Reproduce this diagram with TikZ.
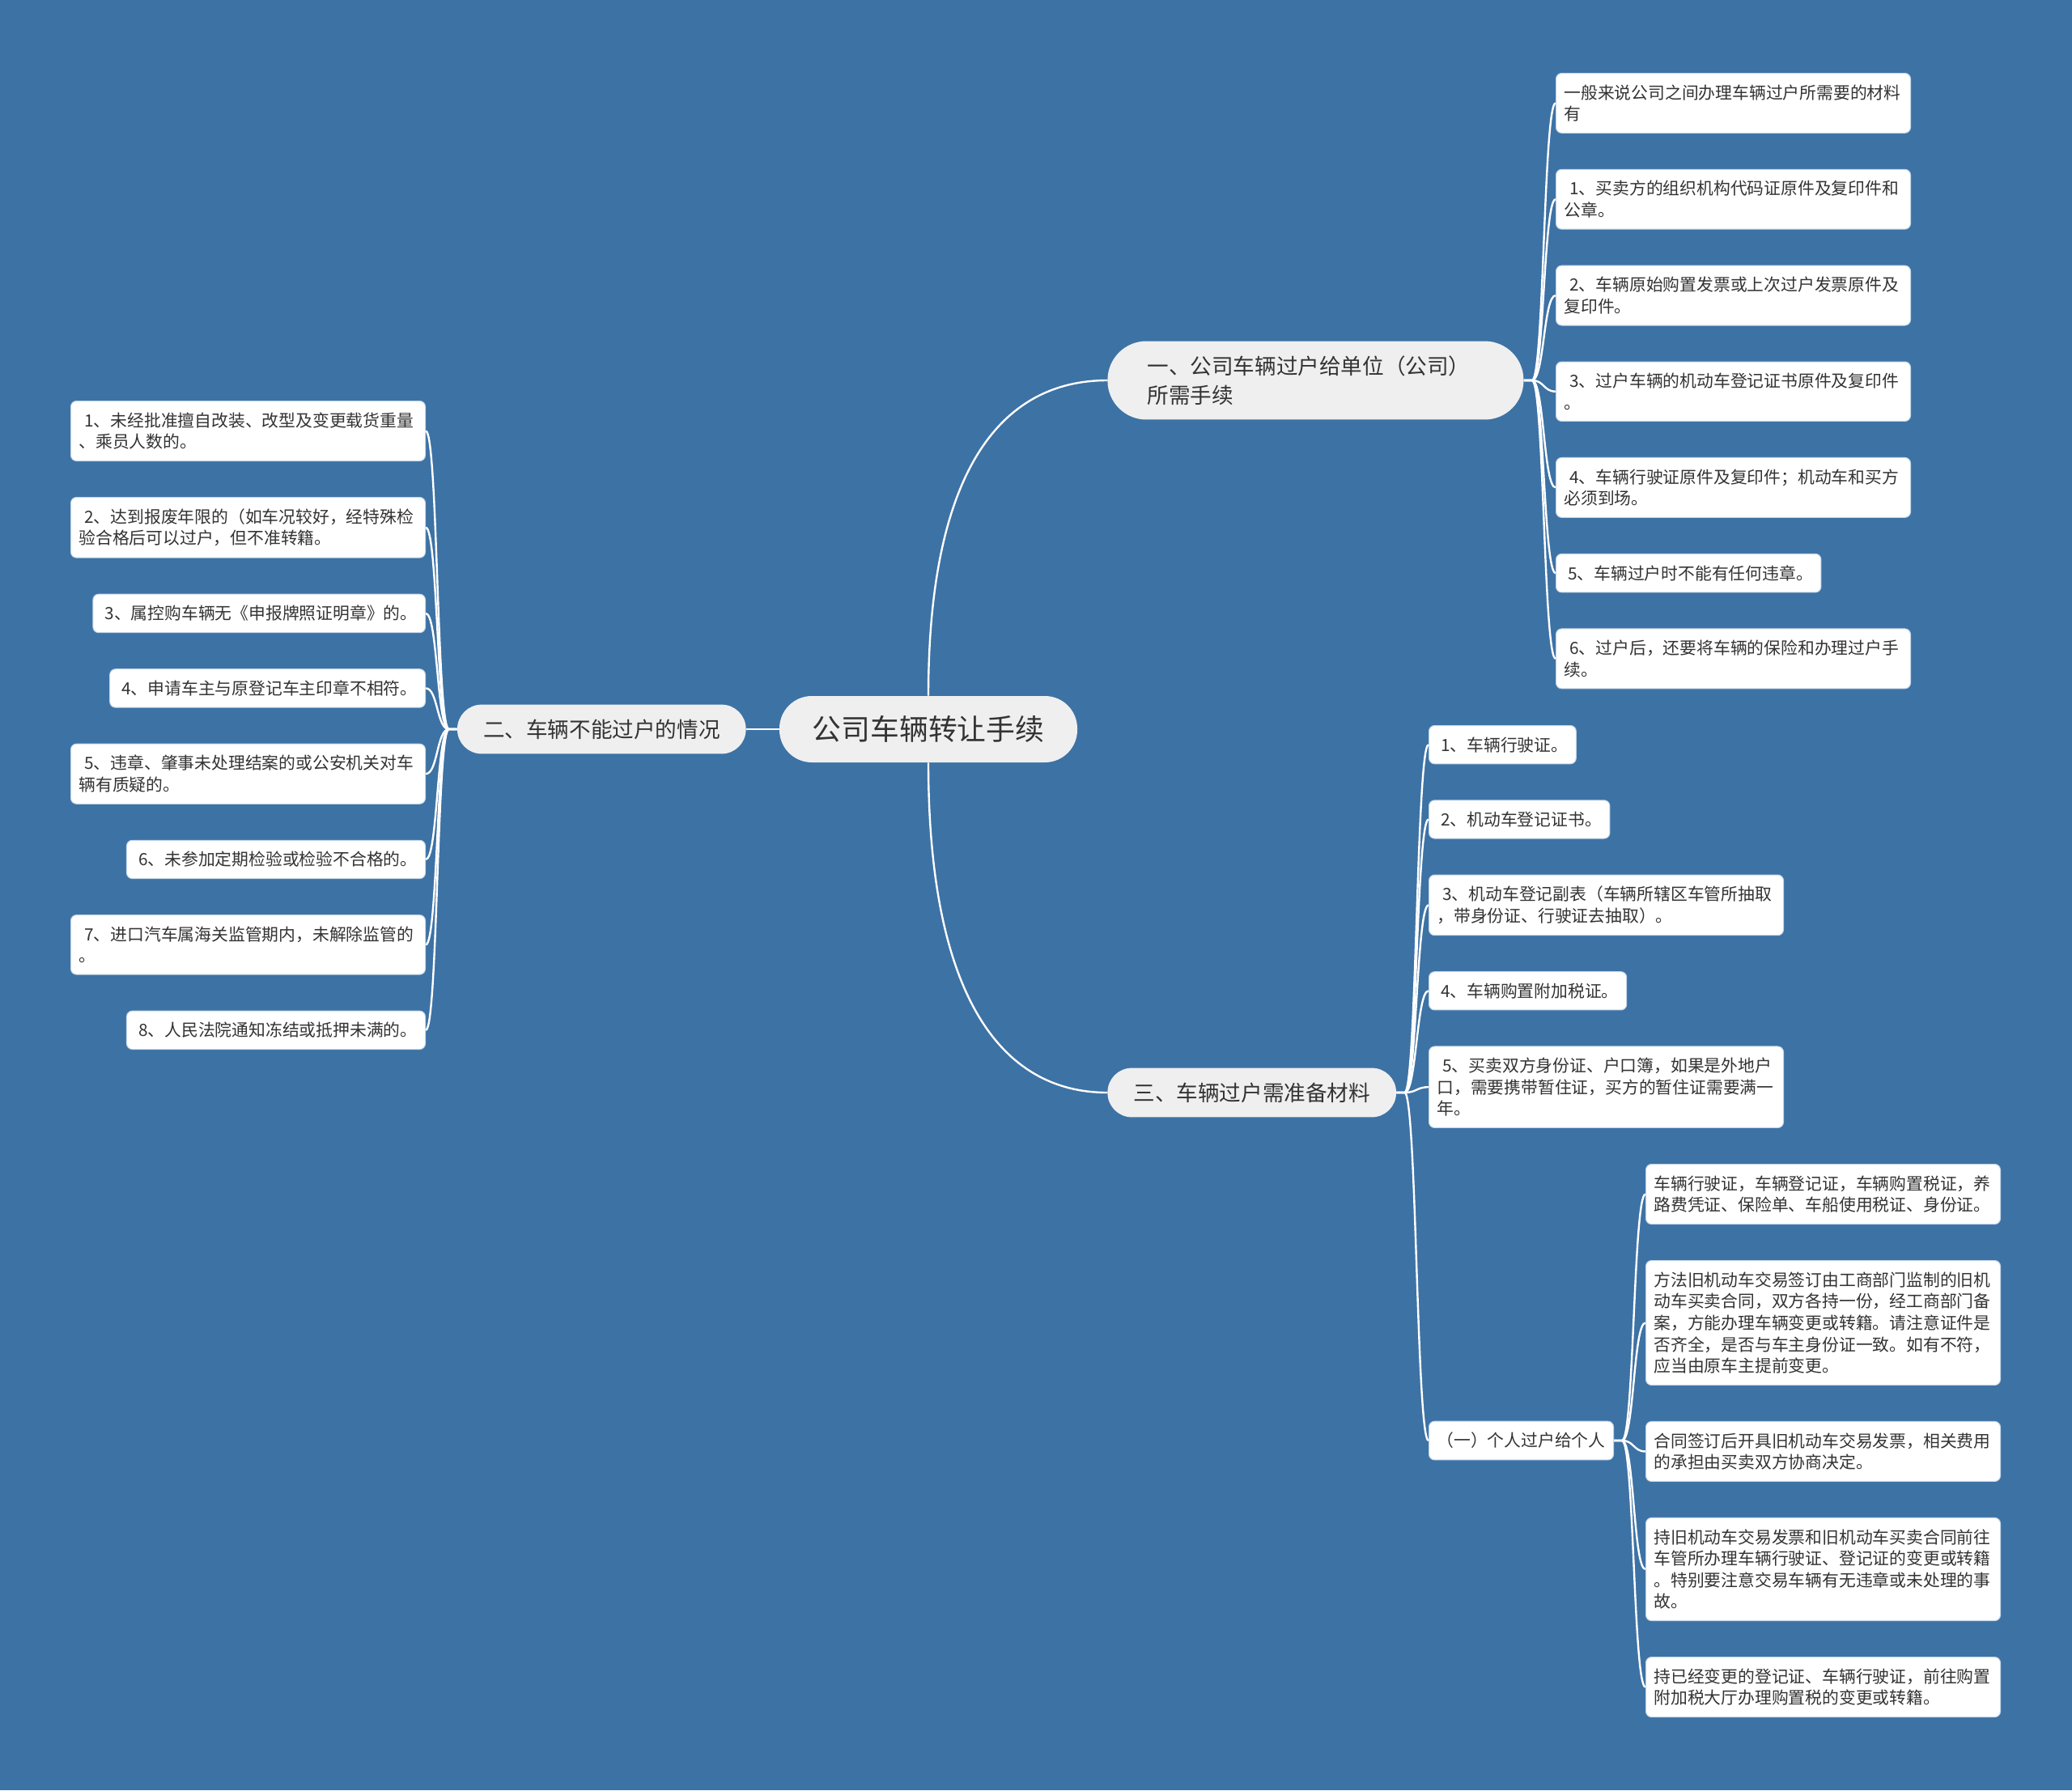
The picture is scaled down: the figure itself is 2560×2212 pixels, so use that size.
\documentclass[tikz,border=0pt]{standalone}
\usepackage{fontspec}
\setmainfont{Noto Sans CJK SC}
\usetikzlibrary{positioning}
\definecolor{stBlue}{RGB}{61,114,165}
\definecolor{stGrey}{RGB}{239,239,239}
\definecolor{stInk}{RGB}{51,51,51}
\definecolor{stEdge}{RGB}{196,214,232}

\begin{document}
\begin{tikzpicture}[x=0.5pt,y=-0.5pt,
  every node/.style={text=stInk},
  root/.style={fill=stGrey,rounded corners=20pt,minimum width=184pt,minimum height=41pt,
               font=\fontsize{17.9}{21}\selectfont},
  branch/.style={fill=stGrey,rounded corners=15pt,inner xsep=16pt,inner ysep=9pt,
                 align=left,font=\fontsize{13.3}{18}\selectfont},
  leaf/.style={fill=white,draw=stEdge,line width=0.5pt,rounded corners=3.5pt,
               inner xsep=5pt,inner ysep=7pt,align=left,font=\fontsize{10.4}{13.3}\selectfont},
  wide/.style={leaf,text width=209pt},
  link/.style={draw=white,line width=1.2pt},
  toR/.style={to path={-- ++(10,0) .. controls +(15,0) and +(-15,0) .. (\tikztotarget)}},
  toL/.style={to path={-- ++(-10,0) .. controls +(-15,0) and +(15,0) .. (\tikztotarget)}}]
\fill[stBlue] (0,0) rectangle (2560,2212);

% centre and main branches
\node[root] (root) at (1147,901) {公司车辆转让手续};
\node[branch,rounded corners=24pt,text width=208pt,inner xsep=24.5pt,anchor=west]
  (one) at (1368,470) {一、公司车辆过户给单位（公司）\\所需手续};
\node[branch,anchor=east] (two) at (922,901) {二、车辆不能过户的情况};
\node[branch,anchor=west] (three) at (1368,1350) {三、车辆过户需准备材料};

% branch one
\node[wide,anchor=north west] (one0) at (1922,90) {一般来说公司之间办理车辆过户所需要的材料\\有};
\node[wide,below=22pt of one0.south west,anchor=north west] (one1) {\ 1、买卖方的组织机构代码证原件及复印件和\\公章。};
\node[wide,below=22pt of one1.south west,anchor=north west] (one2) {\ 2、车辆原始购置发票或上次过户发票原件及\\复印件。};
\node[wide,below=22pt of one2.south west,anchor=north west] (one3) {\ 3、过户车辆的机动车登记证书原件及复印件\\。};
\node[wide,below=22pt of one3.south west,anchor=north west] (one4) {\ 4、车辆行驶证原件及复印件；机动车和买方\\必须到场。};
\node[leaf,below=22pt of one4.south west,anchor=north west] (one5) {\ 5、车辆过户时不能有任何违章。};
\node[wide,below=22pt of one5.south west,anchor=north west] (one6) {\ 6、过户后，还要将车辆的保险和办理过户手\\续。};

% branch two
\node[wide,anchor=north east] (two1) at (526,495) {\ 1、未经批准擅自改装、改型及变更载货重量\\、乘员人数的。};
\node[wide,below=22pt of two1.south east,anchor=north east] (two2) {\ 2、达到报废年限的（如车况较好，经特殊检\\验合格后可以过户，但不准转籍。};
\node[leaf,below=22pt of two2.south east,anchor=north east] (two3) {\ 3、属控购车辆无《申报牌照证明章》的。};
\node[leaf,below=22pt of two3.south east,anchor=north east] (two4) {\ 4、申请车主与原登记车主印章不相符。};
\node[wide,below=22pt of two4.south east,anchor=north east] (two5) {\ 5、违章、肇事未处理结案的或公安机关对车\\辆有质疑的。};
\node[leaf,below=22pt of two5.south east,anchor=north east] (two6) {\ 6、未参加定期检验或检验不合格的。};
\node[wide,below=22pt of two6.south east,anchor=north east] (two7) {\ 7、进口汽车属海关监管期内，未解除监管的\\。};
\node[leaf,below=22pt of two7.south east,anchor=north east] (two8) {\ 8、人民法院通知冻结或抵押未满的。};

% branch three
\node[leaf,anchor=north west] (three1) at (1765,896) {\ 1、车辆行驶证。};
\node[leaf,below=22pt of three1.south west,anchor=north west] (three2) {\ 2、机动车登记证书。};
\node[wide,below=22pt of three2.south west,anchor=north west] (three3) {\ 3、机动车登记副表（车辆所辖区车管所抽取\\，带身份证、行驶证去抽取）。};
\node[leaf,below=22pt of three3.south west,anchor=north west] (three4) {\ 4、车辆购置附加税证。};
\node[wide,below=22pt of three4.south west,anchor=north west] (three5) {\ 5、买卖双方身份证、户口簿，如果是外地户\\口，需要携带暂住证，买方的暂住证需要满一\\年。};
\node[leaf,anchor=west] (three6) at (1765,1780) {（一）个人过户给个人};

% person to person
\node[wide,anchor=north west] (six1) at (2033,1438) {车辆行驶证，车辆登记证，车辆购置税证，养\\路费凭证、保险单、车船使用税证、身份证。};
\node[wide,below=22pt of six1.south west,anchor=north west] (six2) {方法旧机动车交易签订由工商部门监制的旧机\\动车买卖合同，双方各持一份，经工商部门备\\案，方能办理车辆变更或转籍。请注意证件是\\否齐全，是否与车主身份证一致。如有不符，\\应当由原车主提前变更。};
\node[wide,below=22pt of six2.south west,anchor=north west] (six3) {合同签订后开具旧机动车交易发票，相关费用\\的承担由买卖双方协商决定。};
\node[wide,below=22pt of six3.south west,anchor=north west] (six4) {持旧机动车交易发票和旧机动车买卖合同前往\\车管所办理车辆行驶证、登记证的变更或转籍\\。特别要注意交易车辆有无违章或未处理的事\\故。};
\node[wide,below=22pt of six4.south west,anchor=north west] (six5) {持已经变更的登记证、车辆行驶证，前往购置\\附加税大厅办理购置税的变更或转籍。};

% connectors
\draw[link] (root.north) .. controls +(0,-280) and +(-130,0) .. (one.west);
\draw[link] (root.south) .. controls +(0,290) and +(-130,0) .. (three.west);
\draw[link] (root.west) -- (two.east);
\foreach \i in {0,...,6} \draw[link] (one.east) to[toR] (one\i.west);
\foreach \i in {1,...,8} \draw[link] (two.west) to[toL] (two\i.east);
\foreach \i in {1,...,6} \draw[link] (three.east) to[toR] (three\i.west);
\foreach \i in {1,...,5} \draw[link] (three6.east) to[toR] (six\i.west);
\end{tikzpicture}
\end{document}
